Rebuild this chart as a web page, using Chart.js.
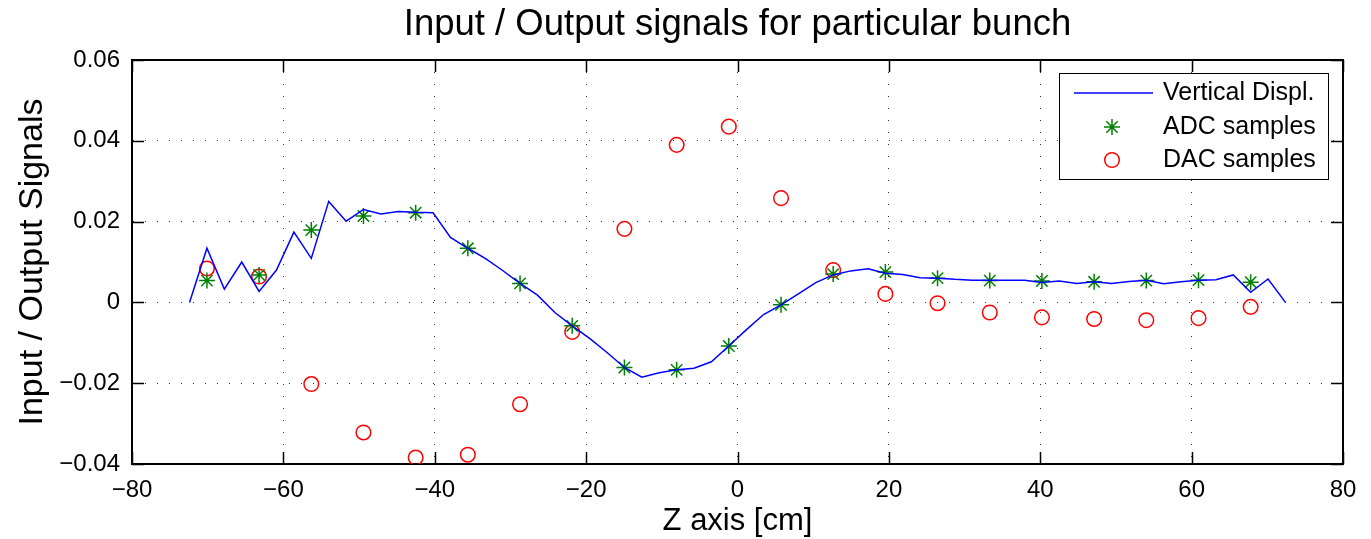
<!DOCTYPE html>
<html>
<head>
<meta charset="utf-8">
<title>Input / Output signals</title>
<script src="https://cdn.jsdelivr.net/npm/chart.js@4.4.1/dist/chart.umd.min.js"></script>
<style>
  html, body { margin: 0; padding: 0; background: #fff; }
  #wrap { width: 1371px; height: 539px; position: relative; }
</style>
</head>
<body>
<div id="wrap"><canvas id="signalChart"></canvas></div>
<script>
// Z positions of the vertical displacement trace [cm]
const zLine = [
  -72.40, -70.10, -67.80, -65.50, -63.21, -60.91, -58.61, -56.31,
  -54.01, -51.71, -49.42, -47.12, -44.82, -42.52, -40.22, -37.92,
  -35.63, -33.33, -31.03, -28.73, -26.43, -24.13, -21.84, -19.54,
  -17.24, -14.94, -12.64, -10.34, -8.04, -5.75, -3.45, -1.15,
  1.15, 3.45, 5.75, 8.04, 10.34, 12.64, 14.94, 17.24,
  19.54, 21.84, 24.13, 26.43, 28.73, 31.03, 33.33, 35.63,
  37.92, 40.22, 42.52, 44.82, 47.12, 49.42, 51.71, 54.01,
  56.31, 58.61, 60.91, 63.21, 65.50, 67.80, 70.10, 72.40
];
const vertDispl = [
  0, 0.0134, 0.0033, 0.0100, 0.0027, 0.0080, 0.0174, 0.0109,
  0.0250, 0.0201, 0.0230, 0.0219, 0.0225, 0.0223, 0.0222, 0.0161,
  0.0134, 0.0109, 0.0079, 0.0047, 0.0018, -0.0025, -0.0058, -0.0089,
  -0.0124, -0.0161, -0.0185, -0.0174, -0.0167, -0.0163, -0.0147, -0.0108,
  -0.0068, -0.0030, -0.0006, 0.0021, 0.0049, 0.0068, 0.0078, 0.0083,
  0.0072, 0.0069, 0.0061, 0.0060, 0.0057, 0.0055, 0.0055, 0.0055,
  0.0055, 0.0049, 0.0053, 0.0047, 0.0051, 0.0047, 0.0052, 0.0055,
  0.0046, 0.0051, 0.0055, 0.0056, 0.0068, 0.0025, 0.0058, 0
];

// Sample positions shared by ADC and DAC [cm]
const sampleZ = [
  -70.10, -63.21, -56.31, -49.42, -42.52, -35.63, -28.73, -21.84,
  -14.94, -8.04, -1.15, 5.75, 12.64, 19.54, 26.43, 33.33,
  40.22, 47.12, 54.01, 60.91, 67.80
];
const adcSamples = [
  0.0054, 0.0068, 0.0179, 0.0214, 0.0222, 0.0134, 0.0047, -0.0058,
  -0.0161, -0.0167, -0.0108, -0.0006, 0.0070, 0.0075, 0.0060, 0.0054,
  0.0053, 0.0051, 0.0054, 0.0055, 0.0050
];
const dacSamples = [
  0.0084, 0.0064, -0.0202, -0.0322, -0.0384, -0.0377, -0.0252, -0.0073,
  0.0182, 0.0390, 0.0435, 0.0258, 0.0080, 0.0021, -0.0002, -0.0025,
  -0.0037, -0.0041, -0.0044, -0.0039, -0.0011
];

const seriesNames = ['Vertical Displ.', 'ADC samples', 'DAC samples'];
const xTicks = [-80, -60, -40, -20, 0, 20, 40, 60, 80];
const yTicks = [-0.04, -0.02, 0, 0.02, 0.04, 0.06];

const toPoints = (xs, ys) => xs.map((x, i) => ({ x: x, y: ys[i] }));
const fmt = (v, digits) => {
  if (Math.abs(v) < 1e-9) return '0';
  const s = Math.abs(v).toFixed(digits);
  return v < 0 ? '\u2212' + s : s;
};

Chart.defaults.font.family = '"Liberation Sans", Arial, sans-serif';
Chart.defaults.color = '#000';

// matlab-style box: full frame with inward ticks on all four sides
const axesBox = {
  id: 'axesBox',
  beforeDatasetsDraw(chart) {
    const { ctx, chartArea: a, scales: { x, y } } = chart;
    const len = 12;
    ctx.save();
    ctx.strokeStyle = '#000';
    ctx.lineWidth = 1.5;
    ctx.beginPath();
    xTicks.forEach(v => {
      const px = Math.round(x.getPixelForValue(v)) + 0.5;
      ctx.moveTo(px, a.bottom); ctx.lineTo(px, a.bottom - len);
      ctx.moveTo(px, a.top); ctx.lineTo(px, a.top + len);
    });
    yTicks.forEach(v => {
      const py = Math.round(y.getPixelForValue(v)) + 0.5;
      ctx.moveTo(a.left, py); ctx.lineTo(a.left + len, py);
      ctx.moveTo(a.right, py); ctx.lineTo(a.right - len, py);
    });
    ctx.stroke();
    ctx.lineWidth = 2;
    ctx.strokeRect(a.left, a.top, a.right - a.left, a.bottom - a.top);
    ctx.restore();
  }
};

// boxed legend in the upper right corner
const boxLegend = {
  id: 'boxLegend',
  afterDraw(chart) {
    const { ctx, chartArea: a } = chart;
    const ds = chart.data.datasets;
    const w = 269, h = 106;
    const left = a.right - 15 - w, top = a.top + 13;
    const rows = [20, 54, 87];
    ctx.save();
    ctx.fillStyle = '#fff';
    ctx.fillRect(left, top, w, h);
    ctx.strokeStyle = '#000';
    ctx.lineWidth = 1;
    ctx.strokeRect(left + 0.5, top + 0.5, w, h);

    // line sample
    ctx.strokeStyle = ds[0].borderColor;
    ctx.lineWidth = 1.5;
    ctx.beginPath();
    ctx.moveTo(left + 15, top + rows[0]);
    ctx.lineTo(left + 94, top + rows[0]);
    ctx.stroke();
    // marker samples
    for (let i = 1; i < 3; i++) {
      ctx.strokeStyle = ds[i].borderColor;
      ctx.lineWidth = ds[i].borderWidth;
      Chart.helpers.drawPoint(ctx, {
        pointStyle: ds[i].pointStyle,
        radius: ds[i].pointRadius,
        rotation: 0,
        borderWidth: ds[i].borderWidth
      }, left + 53, top + rows[i]);
    }
    ctx.fillStyle = '#000';
    ctx.font = '25px "Liberation Sans", Arial, sans-serif';
    ctx.textBaseline = 'middle';
    ctx.textAlign = 'left';
    ds.forEach((d, i) => ctx.fillText(d.label, left + 104, top + rows[i]));
    ctx.restore();
  }
};

new Chart(document.getElementById('signalChart'), {
  type: 'scatter',
  data: {
    datasets: [
      {
        label: seriesNames[0],
        data: toPoints(zLine, vertDispl),
        showLine: true,
        borderColor: '#0000ff',
        borderWidth: 1.5,
        pointRadius: 0,
        tension: 0
      },
      {
        label: seriesNames[1],
        data: toPoints(sampleZ, adcSamples),
        showLine: false,
        pointStyle: 'star',
        pointRadius: 8,
        borderColor: '#008000',
        backgroundColor: '#008000',
        borderWidth: 1.5
      },
      {
        label: seriesNames[2],
        data: toPoints(sampleZ, dacSamples),
        showLine: false,
        pointStyle: 'circle',
        pointRadius: 7.3,
        borderColor: '#ff0000',
        backgroundColor: 'rgba(0,0,0,0)',
        borderWidth: 1.5
      }
    ]
  },
  options: {
    responsive: true,
    maintainAspectRatio: false,
    animation: false,
    layout: { padding: { top: 0, right: 28, bottom: 0, left: 0 } },
    plugins: {
      legend: { display: false },
      tooltip: { enabled: false },
      title: {
        display: true,
        fullSize: false,
        text: 'Input / Output signals for particular bunch',
        color: '#000',
        font: { size: 36.5, weight: 'normal' },
        padding: { top: 3, bottom: 13.2 }
      }
    },
    scales: {
      x: {
        type: 'linear',
        min: -80,
        max: 80,
        afterBuildTicks: s => { s.ticks = xTicks.map(v => ({ value: v })); },
        afterFit: s => { s.height = 75; },
        ticks: {
          font: { size: 24 },
          padding: 12,
          maxRotation: 0,
          callback: v => fmt(v, 0)
        },
        grid: { color: '#333', lineWidth: 1, drawTicks: false },
        border: { display: true, color: '#000', width: 2, dash: [1, 11] },
        title: {
          display: true,
          text: 'Z axis [cm]',
          font: { size: 31 },
          padding: { top: 0, bottom: -1 }
        }
      },
      y: {
        type: 'linear',
        min: -0.04,
        max: 0.06,
        afterBuildTicks: s => { s.ticks = yTicks.map(v => ({ value: v })); },
        afterFit: s => { s.width = 132; },
        ticks: {
          font: { size: 24 },
          padding: 12,
          callback: v => fmt(v, 2)
        },
        grid: { color: '#333', lineWidth: 1, drawTicks: false },
        border: { display: true, color: '#000', width: 2, dash: [1, 11] },
        title: {
          display: true,
          text: 'Input / Output Signals',
          font: { size: 34 },
          padding: { top: 12, bottom: 0 }
        }
      }
    }
  },
  plugins: [axesBox, boxLegend]
});
</script>
</body>
</html>
